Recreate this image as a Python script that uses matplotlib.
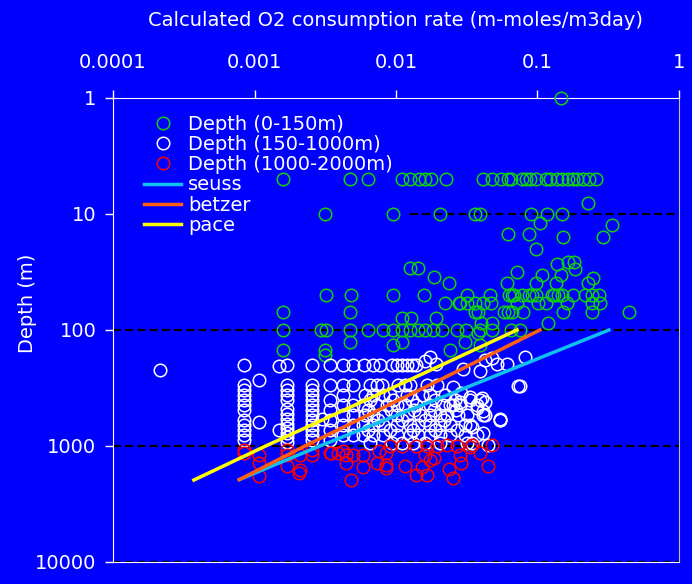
import numpy as np
import matplotlib
matplotlib.use("Agg")
import matplotlib.pyplot as plt

# (rate m-moles/m3day, depth m)
green_pts = [
    (0.147, 1),
    (0.00159, 5), (0.00473, 5), (0.00634, 5), (0.011, 5), (0.0126, 5), (0.0146, 5),
    (0.016, 5), (0.0177, 5), (0.0226, 5), (0.0412, 5), (0.0477, 5), (0.0552, 5),
    (0.0619, 5), (0.065, 5), (0.0777, 5), (0.0829, 5), (0.0885, 5), (0.0976, 5),
    (0.115, 5), (0.1225, 5), (0.137, 5), (0.149, 5), (0.164, 5), (0.178, 5),
    (0.19, 5), (0.21, 5), (0.231, 5), (0.259, 5),
    (0.00315, 10), (0.0095, 10), (0.0205, 10), (0.0362, 10), (0.0393, 10),
    (0.090, 10), (0.117, 10), (0.149, 10),
    (0.226, 8.0), (0.104, 11.9), (0.336, 12.4), (0.0619, 14.9), (0.087, 14.9),
    (0.151, 15.8), (0.29, 15.8), (0.098, 20), (0.137, 27), (0.164, 26), (0.18, 26),
    (0.183, 30), (0.0716, 31.6), (0.108, 33.6), (0.147, 33.6), (0.247, 35.6),
    (0.061, 39), (0.0976, 39), (0.135, 39), (0.226, 39), (0.0126, 29), (0.0142, 29),
    (0.0186, 35), (0.0237, 39),
    (0.0032, 50), (0.0048, 50), (0.0095, 50), (0.0158, 50), (0.0318, 50), (0.0462, 50),
    (0.063, 50), (0.0665, 50), (0.0685, 50), (0.0777, 50), (0.087, 50), (0.0915, 50),
    (0.0976, 50), (0.1265, 50), (0.13, 50), (0.14, 50), (0.149, 50), (0.178, 50),
    (0.217, 50), (0.243, 50), (0.272, 50),
    (0.0221, 59), (0.0279, 59), (0.0283, 59), (0.0318, 59), (0.0362, 59), (0.0412, 59),
    (0.0469, 59), (0.0716, 59), (0.101, 59), (0.115, 59), (0.161, 59), (0.243, 59),
    (0.276, 59),
    (0.00159, 70), (0.00473, 70), (0.0362, 70), (0.038, 70), (0.058, 70), (0.0619, 70),
    (0.0665, 70), (0.079, 70), (0.152, 70), (0.243, 70), (0.44, 70),
    (0.011, 79), (0.0127, 79), (0.0192, 79),
    (0.0399, 87), (0.0477, 87), (0.119, 87),
    (0.00159, 100), (0.00295, 100), (0.0032, 100), (0.00473, 100), (0.00634, 100),
    (0.0081, 100), (0.0095, 100), (0.0111, 100), (0.0126, 100), (0.0142, 100),
    (0.016, 100), (0.0183, 100), (0.0211, 100), (0.0269, 100), (0.0313, 100),
    (0.0393, 100), (0.0477, 100), (0.065, 100), (0.075, 100),
    (0.00159, 150), (0.00315, 150), (0.00315, 164), (0.00473, 127), (0.0095, 135),
    (0.0111, 127), (0.0241, 150), (0.0305, 127), (0.0393, 135), (0.038, 106),
]

white_pts = [
    (0.000215, 221), (0.00108, 270), (0.00108, 621),
    (0.00084, 200), (0.00084, 298), (0.00084, 329), (0.00084, 363), (0.00084, 401),
    (0.00084, 443), (0.00084, 489), (0.00084, 597), (0.00084, 659), (0.00084, 728),
    (0.00084, 804), (0.00084, 888),
    (0.0017, 200), (0.0017, 298), (0.0017, 329), (0.0017, 363), (0.0017, 401),
    (0.0017, 480), (0.0017, 530), (0.0017, 590), (0.0017, 650), (0.0017, 700),
    (0.0017, 780), (0.0017, 840), (0.0017, 930), (0.0015, 205), (0.0015, 728),
    (0.00255, 200), (0.00255, 298), (0.00255, 329), (0.00255, 363), (0.00255, 401),
    (0.00255, 443), (0.00255, 489), (0.00255, 545), (0.00255, 597), (0.00255, 659),
    (0.00255, 728), (0.00255, 804), (0.00255, 888),
    (0.0034, 200), (0.0034, 300), (0.0034, 400), (0.0034, 490), (0.0034, 600),
    (0.0034, 730), (0.0034, 880), (0.003, 590),
    (0.0042, 200), (0.0042, 300), (0.0042, 363), (0.0042, 443), (0.0042, 540),
    (0.0042, 659), (0.0042, 804),
    (0.005, 200), (0.005, 300), (0.005, 443), (0.005, 540), (0.005, 659), (0.005, 804),
    (0.0059, 200), (0.0069, 200), (0.0077, 200), (0.0094, 200), (0.0102, 200),
    (0.011, 200), (0.0119, 200), (0.0129, 200), (0.0139, 200),
    (0.016, 185), (0.0174, 170), (0.0192, 195), (0.0297, 215), (0.0393, 225),
    (0.0426, 181), (0.048, 175), (0.0515, 195), (0.061, 195), (0.082, 170),
    (0.073, 305), (0.054, 597),
    (0.0066, 300), (0.0074, 300), (0.008, 300), (0.0103, 300), (0.0116, 300),
    (0.0126, 300), (0.0165, 300), (0.0195, 300), (0.0253, 310), (0.029, 350),
    (0.0334, 400), (0.0405, 385),
    (0.006, 363), (0.0069, 363), (0.0081, 363), (0.0091, 363), (0.0119, 363),
    (0.0152, 363), (0.0174, 363), (0.0222, 363), (0.0283, 420), (0.0375, 470),
    (0.0412, 500),
    (0.0065, 400), (0.0095, 400), (0.013, 400), (0.019, 400), (0.026, 400),
    (0.0058, 443), (0.0074, 443), (0.0087, 443), (0.0102, 443), (0.0116, 443),
    (0.0139, 443), (0.0174, 443), (0.0215, 443), (0.0241, 443), (0.0253, 443),
    (0.0283, 443), (0.0375, 443),
    (0.0063, 490), (0.0092, 490), (0.0135, 490), (0.0185, 490), (0.0265, 490),
    (0.006, 540), (0.0069, 540), (0.0081, 540), (0.0102, 540), (0.0119, 540),
    (0.0148, 540), (0.0174, 540), (0.0205, 540), (0.023, 540), (0.0274, 540),
    (0.0318, 540), (0.0412, 540), (0.0543, 597),
    (0.0075, 600), (0.011, 600), (0.016, 600), (0.022, 600),
    (0.0058, 659), (0.0069, 659), (0.0081, 659), (0.0102, 659), (0.0126, 659),
    (0.0142, 659), (0.0174, 659), (0.0205, 659), (0.0241, 659), (0.0307, 659),
    (0.0334, 659),
    (0.0063, 730), (0.009, 730), (0.0132, 730), (0.019, 730), (0.027, 730),
    (0.0058, 804), (0.0069, 804), (0.0081, 804), (0.0102, 804), (0.0126, 804),
    (0.0142, 804), (0.0174, 804), (0.0205, 804), (0.0241, 804), (0.0307, 804),
    (0.0375, 804),
    (0.0066, 940), (0.0094, 940), (0.011, 940), (0.0131, 940), (0.016, 940),
    (0.0205, 940), (0.0318, 940), (0.0345, 940),
    (0.0426, 540), (0.0412, 770), (0.0447, 980), (0.0543, 590), (0.0345, 690),
    (0.0334, 380), (0.0393, 400), (0.0426, 420), (0.075, 305),
]

red_pts = [
    (0.00084, 1082), (0.00084, 1160), (0.00108, 1195), (0.00108, 1400), (0.00108, 1830),
    (0.0017, 1082), (0.0017, 1195), (0.0017, 1500), (0.0021, 1195), (0.0021, 1610),
    (0.00205, 1700), (0.00255, 1082), (0.00255, 1195), (0.0034, 1160), (0.0039, 1150),
    (0.0035, 1150), (0.0042, 1110), (0.0044, 1195), (0.005, 1195), (0.0058, 1195),
    (0.0076, 1110), (0.0085, 1150), (0.0091, 1000), (0.011, 1000), (0.0139, 1000),
    (0.0165, 1000), (0.0195, 1000), (0.023, 980), (0.0268, 1000), (0.0334, 1030),
    (0.0345, 980), (0.048, 980), (0.0074, 1400), (0.0085, 1450), (0.0085, 1550),
    (0.0116, 1500), (0.0058, 1520), (0.0044, 1400), (0.0152, 1520), (0.0174, 1320),
    (0.0185, 1270), (0.016, 1195), (0.029, 1400), (0.0283, 1195), (0.0393, 1150),
    (0.0447, 1500), (0.0235, 1580), (0.0139, 1780), (0.0165, 1780), (0.0253, 1900),
    (0.0048, 1960),
]

# model curves
line_depth = [100, 300, 1000, 1950]
seuss_rate = [0.32, 0.0343, 0.0029, 0.00078]
betzer_rate = [0.104, 0.0171, 0.00227, 0.00078]
pace_depth = [100, 300, 1000, 1965]
pace_rate = [0.0716, 0.0103, 0.0012, 0.000373]

xticks = [0.0001, 0.001, 0.01, 0.1, 1]
xtick_labels = ["0.0001", "0.001", "0.01", "0.1", "1"]
yticks = [1, 10, 100, 1000, 10000]
ytick_labels = ["1", "10", "100", "1000", "10000"]

blue = "#0000ff"
plt.rcParams['font.family'] = ['DejaVu Sans']

fig = plt.figure(figsize=(6.92, 5.84), dpi=100, facecolor=blue)
ax = fig.add_axes([0.1633, 0.0377, 0.8179, 0.7945], facecolor=blue)

ax.set_xscale('log')
ax.set_yscale('log')
ax.set_xlim(0.0001, 1)
ax.set_ylim(10000, 1)

dash = (0, (3.5, 2))
ax.axhline(10, xmin=0.525, color='black', ls=dash, lw=1.6, zorder=1)
for d in [100, 1000, 10000]:
    ax.axhline(d, color='black', ls=dash, lw=1.6, zorder=1)

mk = dict(ls='none', marker='o', mfc='none', ms=9, mew=1.1, zorder=6, clip_on=False)
g = np.array(green_pts)
w = np.array(white_pts)
r = np.array(red_pts)
ax.plot(g[:, 0], g[:, 1], mec='#10d010', label='Depth (0-150m)', **mk)
ax.plot(w[:, 0], w[:, 1], mec='white', label='Depth (150-1000m)', **mk)
ax.plot(r[:, 0], r[:, 1], mec='#ff0000', label='Depth (1000-2000m)', **mk)

ax.plot(seuss_rate, line_depth, color='#10c0f0', lw=2.5, label='seuss', zorder=7)
ax.plot(betzer_rate, line_depth, color='#ff6010', lw=2.5, label='betzer', zorder=7)
ax.plot(pace_rate, pace_depth, color='#ffff00', lw=2.5, label='pace', zorder=7)

ax.xaxis.tick_top()
ax.xaxis.set_label_position('top')
ax.set_xticks(xticks)
ax.set_xticklabels(xtick_labels)
ax.set_yticks(yticks)
ax.set_yticklabels(ytick_labels)
ax.minorticks_off()
ax.tick_params(axis='both', colors='white', labelsize=14, length=6, width=1,
               direction='out')
ax.tick_params(axis='x', pad=13)
ax.tick_params(axis='y', pad=6)

for s in ['top', 'left', 'bottom']:
    ax.spines[s].set_color('white')
ax.spines['right'].set_color('#c0c0c0')

ax.set_xlabel('Calculated O2 consumption rate (m-moles/m3day)', color='white',
              fontsize=14, labelpad=19)
ax.set_ylabel('Depth (m)', color='white', fontsize=14)
ax.yaxis.set_label_coords(-0.134, 0.558)

leg = ax.legend(loc='upper left', bbox_to_anchor=(0.045, 0.976), fontsize=14,
                frameon=True, facecolor=blue, edgecolor=blue, framealpha=1,
                labelspacing=0.06, handlelength=1.9, handletextpad=0.35,
                borderpad=0.3, borderaxespad=0.0)
leg.set_zorder(5)
for t in leg.get_texts():
    t.set_color('white')

fig.savefig('out.png', dpi=100, facecolor=blue)
